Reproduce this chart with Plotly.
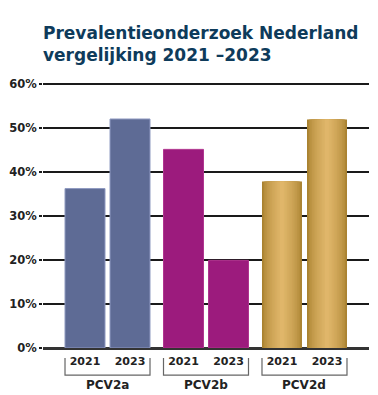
import plotly.graph_objects as go

# ---- data ----
groups = ["PCV2a", "PCV2b", "PCV2d"]
years = ["2021", "2023"]
values_2021 = [36.2, 45.1, 37.8]
values_2023 = [52.0, 19.9, 51.9]
y_ticks = [0, 10, 20, 30, 40, 50, 60]
y_tick_labels = ["0%", "10%", "20%", "30%", "40%", "50%", "60%"]
title_text = "Prevalentieonderzoek Nederland<br>vergelijking 2021 \u20132023"

# ---- style ----
group_colors = {"PCV2a": "#5e6b95", "PCV2b": "#9c1b7d"}
group_lines = {"PCV2a": "#8e99c0", "PCV2b": "#b0358f"}
gold_edge = (169, 130, 48)
gold_mid = (224, 182, 106)
half_step = 0.2285
bar_w = 0.406
label_font = "DejaVu Sans"

fig = go.Figure()

xs, labels = [], []
for gi, g in enumerate(groups):
    vals = [values_2021[gi], values_2023[gi]]
    pos = [gi - half_step, gi + half_step]
    for yi in range(2):
        xs.append(pos[yi]); labels.append(years[yi])
    if g in group_colors:
        fig.add_trace(go.Bar(x=pos, y=vals, width=bar_w,
                             marker=dict(color=group_colors[g],
                                         line=dict(color=group_lines[g], width=1)),
                             showlegend=False, hoverinfo="skip"))
    else:
        n = 12
        for k in range(n):
            t = k / (n - 1)
            w = bar_w * (1 - 0.9 * t)
            c = tuple(int(gold_edge[i] + (gold_mid[i] - gold_edge[i]) * (t ** 0.6)) for i in range(3))
            fig.add_trace(go.Bar(x=pos, y=vals, width=w,
                                 marker=dict(color="rgb(%d,%d,%d)" % c, line=dict(width=0)),
                                 showlegend=False, hoverinfo="skip"))

# brackets and group labels
shapes = []
annotations = []
for gi, g in enumerate(groups):
    x0 = gi - half_step - bar_w / 2
    x1 = gi + half_step + bar_w / 2
    shapes.append(dict(type="path", xref="x", yref="paper",
                       path=f"M {x0},-0.038 L {x0},-0.102 L {x1},-0.102 L {x1},-0.038",
                       line=dict(color="#666666", width=1.2)))
    annotations.append(dict(x=gi, y=-0.14, xref="x", yref="paper", text=g,
                            showarrow=False, yanchor="middle",
                            font=dict(family=label_font, size=12, color="#222222", weight="bold")))

# figure is placed 8px in from the page's top-left corner
fig.update_layout(
    width=370, height=387,
    margin=dict(l=35, r=9, t=74, b=47, autoexpand=False),
    paper_bgcolor="white", plot_bgcolor="white",
    barmode="overlay",
    title=dict(text=title_text, x=35 / 370, xanchor="left", xref="container",
               y=1 - 31 / 387, yanchor="top", yref="container",
               font=dict(family="DejaVu Sans", size=17, color="#0e3b5b", weight="bold")),
    xaxis=dict(range=[-0.655, 2.655], tickmode="array", tickvals=xs, ticktext=labels,
               showgrid=False, zeroline=False, showline=False, ticks="", automargin=False,
               ticklabelstandoff=5,
               tickfont=dict(family=label_font, size=11, color="#222222", weight="bold")),
    yaxis=dict(range=[0, 60.4], tickmode="array", tickvals=y_ticks, ticktext=y_tick_labels,
               showgrid=True, gridcolor="#1a1a1a", gridwidth=1.5, automargin=False,
               zeroline=True, zerolinecolor="#333333", zerolinewidth=2.5,
               ticks="outside", ticklen=3, tickcolor="#1a1a1a", tickwidth=1.5,
               tickfont=dict(family=label_font, size=11.5, color="#222222", weight="bold")),
    shapes=shapes, annotations=annotations,
)

fig.write_html("out.html")
